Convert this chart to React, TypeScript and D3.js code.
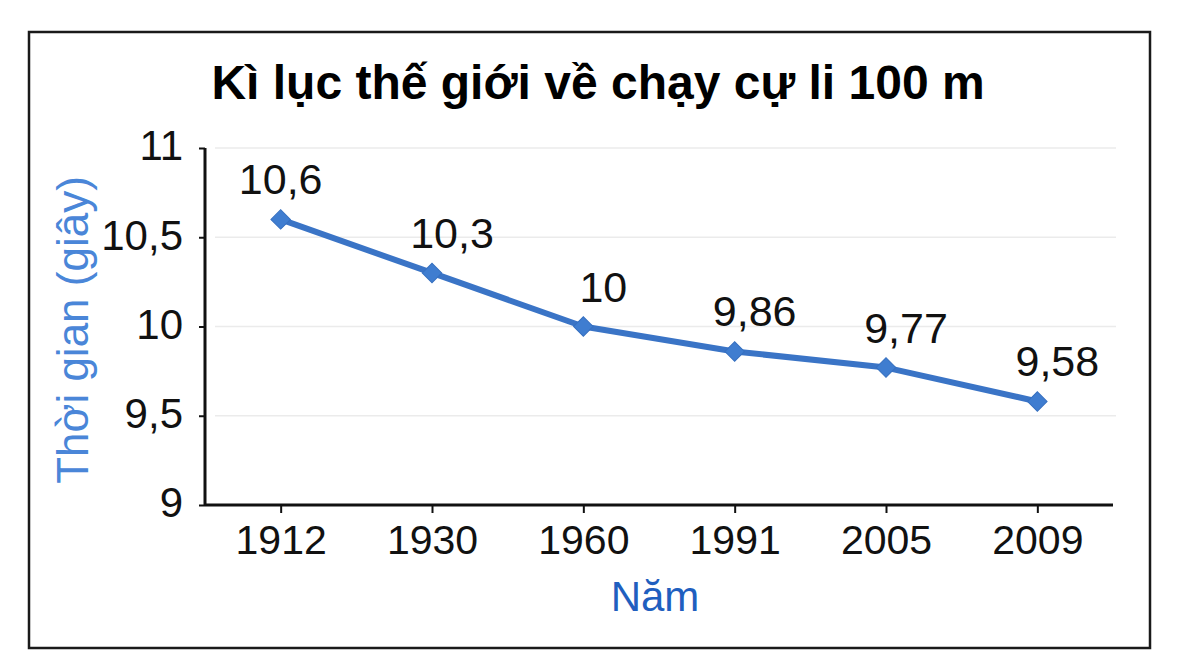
import { useRef, useEffect } from 'react'
import * as d3 from 'd3'

const TITLE = 'Kì lục thế giới về chạy cự li 100 m'
const Y_LABEL = 'Thời gian (giây)'
const X_LABEL = 'Năm'

const years = ['1912', '1930', '1960', '1991', '2005', '2009']
const times = [10.6, 10.3, 10, 9.86, 9.77, 9.58]
const timeLabels = ['10,6', '10,3', '10', '9,86', '9,77', '9,58']
const yTicks = [9, 9.5, 10, 10.5, 11]
const yTickLabels = ['9', '9,5', '10', '10,5', '11']

const FONT = '"Liberation Sans", Arial, sans-serif'
const LINE_BLUE = '#3a74c6'

export default function App() {
  const svgRef = useRef<SVGSVGElement>(null)

  useEffect(() => {
    if (!svgRef.current) return
    const svg = d3.select(svgRef.current)
    svg.selectAll('*').remove()

    const width = 1197
    const height = 671
    const plot = { left: 205, right: 1113, top: 148, bottom: 505 }

    svg.attr('width', width).attr('height', height).attr('viewBox', `0 0 ${width} ${height}`)

    svg.append('rect')
      .attr('x', 0).attr('y', 0).attr('width', width).attr('height', height)
      .attr('fill', '#fff')

    // frame
    svg.append('rect')
      .attr('x', 29).attr('y', 32).attr('width', 1121).attr('height', 616)
      .attr('fill', 'none').attr('stroke', '#1a1a1a').attr('stroke-width', 2.5)

    const x = d3.scalePoint<string>()
      .domain(years)
      .range([plot.left, plot.right])
      .padding(0.5)

    const y = d3.scaleLinear()
      .domain([9, 11])
      .range([plot.bottom, plot.top])

    // title
    svg.append('text')
      .attr('x', 598).attr('y', 99)
      .attr('text-anchor', 'middle')
      .style('font-family', FONT).style('font-size', '48px').style('font-weight', 'bold')
      .attr('fill', '#000')
      .text(TITLE)

    // gridlines
    svg.append('g')
      .selectAll('line')
      .data(yTicks.filter(t => t > 9))
      .join('line')
      .attr('x1', plot.left + 10).attr('x2', plot.right + 3)
      .attr('y1', d => y(d)).attr('y2', d => y(d))
      .attr('stroke', '#ebebeb').attr('stroke-width', 1.5)

    // y axis
    const yAxis = svg.append('g')
      .attr('transform', `translate(${plot.left},0)`)
      .call(d3.axisLeft(y).tickValues(yTicks).tickSize(6).tickPadding(16)
        .tickFormat((_d, i) => yTickLabels[i]))
    yAxis.select('.domain').attr('stroke', '#111').attr('stroke-width', 3)
      .attr('d', `M0,${plot.top}V${plot.bottom}`)
    yAxis.selectAll('.tick line').attr('stroke', '#111').attr('stroke-width', 2)
    yAxis.selectAll('.tick text')
      .style('font-family', FONT).style('font-size', '42px').attr('fill', '#111')
      .attr('dy', '0.28em')

    // x axis
    const xAxis = svg.append('g')
      .attr('transform', `translate(0,${plot.bottom})`)
      .call(d3.axisBottom(x).tickSize(8).tickPadding(10))
    xAxis.select('.domain').attr('stroke', '#111').attr('stroke-width', 3)
      .attr('d', `M${plot.left},0H${plot.right}`)
    xAxis.selectAll('.tick line').attr('stroke', '#111').attr('stroke-width', 2)
    xAxis.selectAll('.tick text')
      .style('font-family', FONT).style('font-size', '41px').attr('fill', '#111')
      .attr('dy', '0.76em')

    // axis titles
    svg.append('text')
      .attr('transform', `translate(88,330) rotate(-90)`)
      .attr('text-anchor', 'middle')
      .style('font-family', FONT).style('font-size', '44px')
      .attr('fill', '#4a86d8')
      .text(Y_LABEL)

    svg.append('text')
      .attr('x', 655).attr('y', 611)
      .attr('text-anchor', 'middle')
      .style('font-family', FONT).style('font-size', '42px')
      .attr('fill', '#1f5fbf')
      .text(X_LABEL)

    // series line
    const pts = years.map((yr, i) => [x(yr)!, y(times[i])] as [number, number])
    svg.append('path')
      .attr('d', d3.line()(pts)!)
      .attr('fill', 'none')
      .attr('stroke', LINE_BLUE).attr('stroke-width', 6)
      .attr('stroke-linejoin', 'round')

    // diamond markers
    const diamond = d3.symbol().type(d3.symbolSquare).size(190)
    svg.append('g')
      .selectAll('path')
      .data(pts)
      .join('path')
      .attr('d', diamond()!)
      .attr('transform', d => `translate(${d[0]},${d[1]}) rotate(45)`)
      .attr('fill', '#3f7dd0').attr('stroke', '#3670c0').attr('stroke-width', 1)

    // data labels
    svg.append('g')
      .selectAll('text')
      .data(pts)
      .join('text')
      .attr('x', (d, i) => d[0] + (i === 0 ? 0 : 20))
      .attr('y', d => d[1] - 25)
      .attr('text-anchor', 'middle')
      .style('font-family', FONT).style('font-size', '43px')
      .attr('fill', '#111')
      .text((_d, i) => timeLabels[i])
  }, [])

  return (
    <svg ref={svgRef} style={{ position: 'absolute', left: 0, top: 0, display: 'block' }} />
  )
}
